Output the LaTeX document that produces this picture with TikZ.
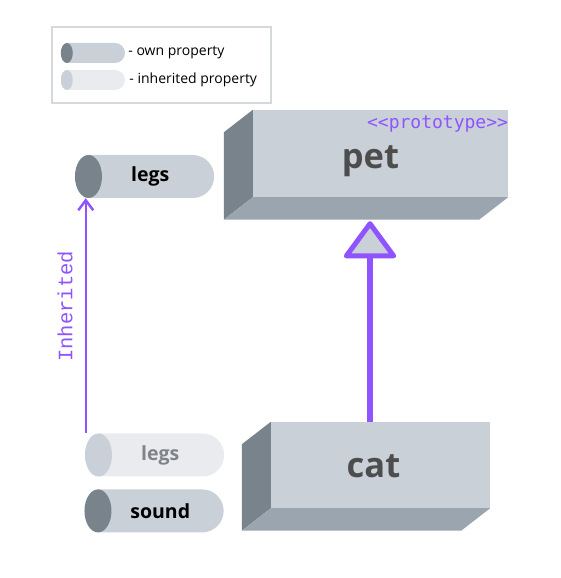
\documentclass[tikz,border=0pt]{standalone}
\usepackage{fontspec}
\setmainfont{Open Sans}
\setmonofont{Liberation Mono}
\newfontfamily\protofont{DejaVu Sans Mono}
\usepackage{xcolor}
\usetikzlibrary{arrows.meta,positioning,shapes.geometric,shapes.misc}

\definecolor{boxfront}{HTML}{C9D0D8}
\definecolor{boxside}{HTML}{78838C}
\definecolor{boxbottom}{HTML}{9AA5B0}
\definecolor{inhfill}{HTML}{E9EBEF}
\definecolor{inhtext}{HTML}{808388}
\definecolor{labelgray}{HTML}{4D4D4D}
\definecolor{protopurple}{HTML}{8F54FF}
\definecolor{legendgray}{HTML}{D5D9DE}

\begin{document}
\begin{tikzpicture}[x=1pt, y=1pt]
    \tikzstyle{front} = [rectangle, fill=boxfront, inner sep=0pt]
    \tikzstyle{title} = [inner sep=0pt, text=labelgray, font=\fontsize{34.5}{40}\selectfont\bfseries]
    \tikzstyle{proto} = [inner sep=0pt, text=protopurple, font=\protofont\fontsize{18}{22}\selectfont]
    \tikzstyle{ownbody} = [rounded rectangle, rounded rectangle west arc=none, fill=boxfront, minimum width=125.5pt, minimum height=43pt, inner sep=0pt, font=\fontsize{19.5}{22}\selectfont\bfseries]
    \tikzstyle{inhbody} = [ownbody, fill=inhfill, text=inhtext]
    \tikzstyle{ownend} = [ellipse, fill=boxside, minimum width=27pt, minimum height=43pt, inner sep=0pt]
    \tikzstyle{inhend} = [ownend, fill=boxfront]
    \tikzstyle{keybody} = [minimum width=58pt, minimum height=20pt]
    \tikzstyle{keyend} = [minimum width=12pt, minimum height=20pt]
    \tikzstyle{keytext} = [inner sep=0pt, font=\fontsize{14}{16}\selectfont]
    \tikzstyle{extends} = [line width=6pt, draw=protopurple, -{Triangle[round, length=39pt, width=56pt, line width=5pt, fill=boxfront]}]
    \tikzstyle{inherit} = [line width=2.5pt, draw=protopurple, -{Straight Barb[length=10pt, width=15pt]}]

    \useasboundingbox (0,0) rectangle (560,578);

    % legend
    \node [draw=legendgray, line width=1.5pt, minimum width=219pt, minimum height=76pt] (legend) at (161.5,513) {};
    \node [ownbody, keybody] (keyown) at (96,525) {};
    \node [ownend, keyend] (keyownend) at (keyown.west) {};
    \node [keytext, right=3pt of keyown] (keyowntext) {- own property};
    \node [inhbody, keybody] (keyinh) at (96,498) {};
    \node [inhend, keyend] (keyinhend) at (keyinh.west) {};
    \node [keytext, right=4pt of keyinh] (keyinhtext) {- inherited property};

    % boxes
    \node [front, minimum width=255pt, minimum height=87pt] (pet) at (380.5,424.5) {};
    \node [front, minimum width=219pt, minimum height=86pt] (cat) at (380.5,113) {};
    \foreach \b in {pet,cat} {
        \fill [boxside] (\b.north west) -- (\b.south west) -- ++(-29,-22.5) -- ([shift={(-29,-22.5)}]\b.north west) -- cycle;
        \fill [boxbottom] (\b.south west) -- (\b.south east) -- ++(-29,-22.5) -- ([shift={(-29,-22.5)}]\b.south west) -- cycle;
    }
    \node [title] (pettitle) at ([shift={(-10,-7.5)}]pet.center) {pet};
    \node [title] (cattitle) at ([shift={(-7,-1)}]cat.center) {cat};
    \node [proto, anchor=east] (stereo) at ([yshift=-14]pet.north east) {<{}<prototype>{}>};

    % properties
    \node [ownbody] (legsown) at (150.25,401.5) {legs};
    \node [ownend] (legsownend) at (legsown.west) {};
    \node [inhbody] (legsinh) at (160.25,123) {legs};
    \node [inhend] (legsinhend) at (legsinh.west) {};
    \node [ownbody, below=12.5pt of legsinh] (sound) {sound};
    \node [ownend] (soundend) at (sound.west) {};

    \draw [extends] ([xshift=-10.5]cat.north) -- ([shift={(-10.5,-24)}]pet.south);
    \draw [inherit] ([xshift=1]legsinhend.west |- legsinh.north) -- ([xshift=1]legsownend.south -| legsinhend.west)
        node [pos=0.54, sloped, above=12pt, inner sep=0pt, text=protopurple, font=\ttfamily\fontsize{20.5}{24}\selectfont] (inhlabel) {Inherited};
\end{tikzpicture}
\end{document}
